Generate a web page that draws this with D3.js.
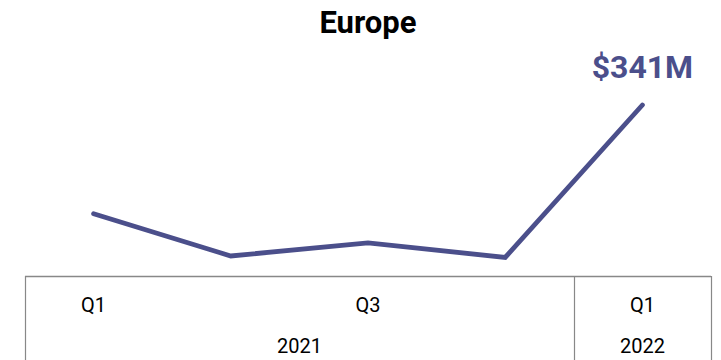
<!DOCTYPE html>
<html><head><meta charset="utf-8">
<script src="https://cdn.jsdelivr.net/npm/d3@7"></script>
<style>body{margin:0;background:#fff}svg{display:block}</style>
</head><body>
<svg id="c" width="721" height="360"></svg>
<script>
const categories = ["2021 Q1","2021 Q2","2021 Q3","2021 Q4","2022 Q1"];
const quarterLabels = ["Q1","Q2","Q3","Q4","Q1"];
const years = ["2021","2021","2021","2021","2022"];
const values = [124, 40, 66, 37, 341];
const valueLabel = "$341M";
const title = "Europe";
const shownQuarters = [0, 2, 4];

const svg = d3.select("#c");
const W = 721, H = 360;
const plotLeft = 25, plotRight = 711, axisY = 276, plotTop = 105;
const color = "#4b4f8b";

const x = d3.scaleBand().domain(categories).range([plotLeft, plotRight]).padding(0);
const y = d3.scaleLinear().domain([0, 341]).range([axisY, plotTop]);

svg.append("text").attr("x", 368).attr("y", 33).attr("text-anchor","middle")
  .attr("font-family","Roboto").attr("font-weight","bold").attr("font-size",31)
  .attr("fill","#000").text(title);

const line = d3.line().x((d,i)=>x(categories[i])+x.bandwidth()/2).y(d=>y(d));
svg.append("path").datum(values).attr("d", line).attr("fill","none")
  .attr("stroke", color).attr("stroke-width", 4.8).attr("stroke-linecap","round").attr("stroke-linejoin","miter");

const last = values.length-1;
svg.append("text").attr("x", x(categories[last])+x.bandwidth()/2).attr("y", y(values[last]) - 27.5)
  .attr("text-anchor","middle").attr("font-family","Roboto").attr("font-weight","bold")
  .attr("font-size",32).attr("fill",color).text(valueLabel);

// axis
const g = svg.append("g");
const axisColor = "#888";
g.append("line").attr("x1",plotLeft).attr("x2",plotRight).attr("y1",axisY+0.5).attr("y2",axisY+0.5)
  .attr("stroke",axisColor).attr("stroke-width",1.5);
const groups = d3.groups(categories.map((c,i)=>({c, yr: years[i]})), d=>d.yr);
const bounds = [plotLeft];
groups.forEach(([yr, items])=>{ bounds.push(x(items[items.length-1].c)+x.bandwidth()); });
bounds.forEach(b=>{
  g.append("line").attr("x1",Math.round(b)+0.5).attr("x2",Math.round(b)+0.5).attr("y1",axisY).attr("y2",H)
   .attr("stroke",axisColor).attr("stroke-width",1.2);
});
shownQuarters.forEach(i=>{
  g.append("text").attr("x", x(categories[i])+x.bandwidth()/2).attr("y", 312)
   .attr("text-anchor","middle").attr("font-family","Roboto").attr("font-size",20).attr("fill","#000")
   .text(quarterLabels[i]);
});
groups.forEach(([yr, items])=>{
  const x0 = x(items[0].c), x1 = x(items[items.length-1].c)+x.bandwidth();
  g.append("text").attr("x",(x0+x1)/2).attr("y",353).attr("text-anchor","middle")
   .attr("font-family","Roboto").attr("font-size",20).attr("fill","#000").text(yr);
});
</script>
</body></html>
